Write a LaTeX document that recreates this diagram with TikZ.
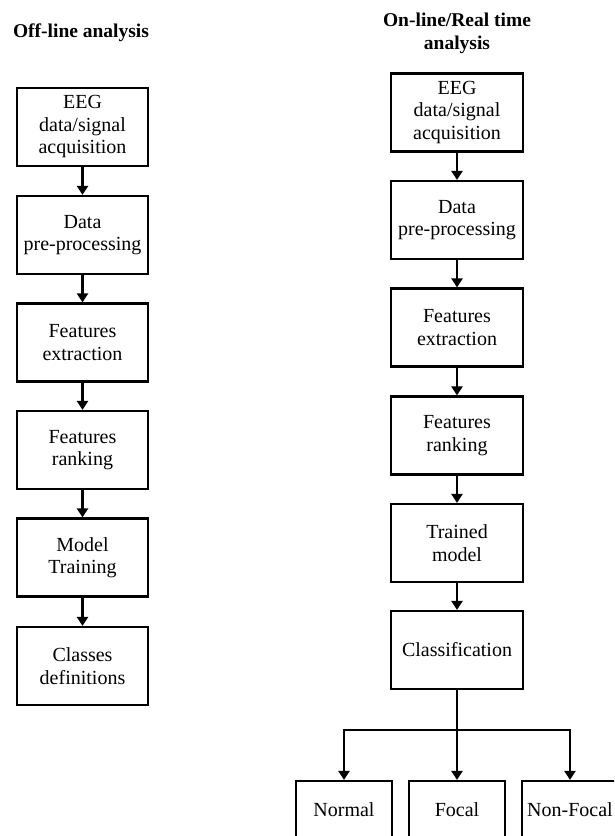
\documentclass[tikz,border=0pt]{standalone}
\usepackage{fontspec}
\setmainfont{Liberation Serif}
\usetikzlibrary{arrows.meta}
\usetikzlibrary{calc}

\tikzset{
  stepbox/.style={draw, line width=2.2pt, align=center, inner sep=2pt,
    minimum width=131pt, minimum height=78pt,
    font=\fontsize{20}{22.5}\selectfont},
  classbox/.style={stepbox, minimum width=96pt, minimum height=58pt},
  heading/.style={align=center, font=\fontsize{19.5}{23}\selectfont\bfseries},
  arr/.style={line width=2.2pt, -{Triangle[length=9pt,width=11pt]}},
  wire/.style={line width=2.2pt}
}

\begin{document}
\begin{tikzpicture}[x=1pt, y=-1pt]
\useasboundingbox (0,0) rectangle (614,836);
\clip (0,0) rectangle (614,836);

% off-line column
\node[heading] (offtitle) at (81,33) {Off-line analysis};
\node[stepbox] (off1) at (82.5,127) {EEG\\data/signal\\acquisition};
\node[stepbox] (off2) at (82.5,235) {Data\\pre-processing};
\node[stepbox] (off3) at (82.5,342.5) {Features\\extraction};
\node[stepbox] (off4) at (82.5,450) {Features\\ranking};
\node[stepbox] (off5) at (82.5,557.5) {Model\\Training};
\node[stepbox] (off6) at (82.5,666) {Classes\\definitions};

\draw[arr] (off1) -- (off2);
\draw[arr] (off2) -- (off3);
\draw[arr] (off3) -- (off4);
\draw[arr] (off4) -- (off5);
\draw[arr] (off5) -- (off6);

% on-line column
\node[heading] (ontitle) at (457,33.5) {On-line/Real time\\analysis};
\node[stepbox, minimum width=132pt] (on1) at (457,112.5) {EEG\\data/signal\\acquisition};
\node[stepbox, minimum width=132pt] (on2) at (457,220) {Data\\pre-processing};
\node[stepbox, minimum width=132pt] (on3) at (457,327.5) {Features\\extraction};
\node[stepbox, minimum width=132pt] (on4) at (457,435.5) {Features\\ranking};
\node[stepbox, minimum width=132pt] (on5) at (457,543) {Trained\\model};
\node[stepbox, minimum width=132pt] (on6) at (457,650) {Classification};

\draw[arr] (on1) -- (on2);
\draw[arr] (on2) -- (on3);
\draw[arr] (on3) -- (on4);
\draw[arr] (on4) -- (on5);
\draw[arr] (on5) -- (on6);

% classes
\node[classbox] (normal) at (344,810) {Normal};
\node[classbox] (focal) at (457,810) {Focal};
\node[classbox] (nonfocal) at (570,810) {Non-Focal};

\coordinate (fork) at (457,730);
\draw[wire] (on6) -- (fork);
\draw[arr] (fork) -| (normal);
\draw[arr] (fork) -- (focal);
\draw[arr] (fork) -| (nonfocal);

\end{tikzpicture}
\end{document}
